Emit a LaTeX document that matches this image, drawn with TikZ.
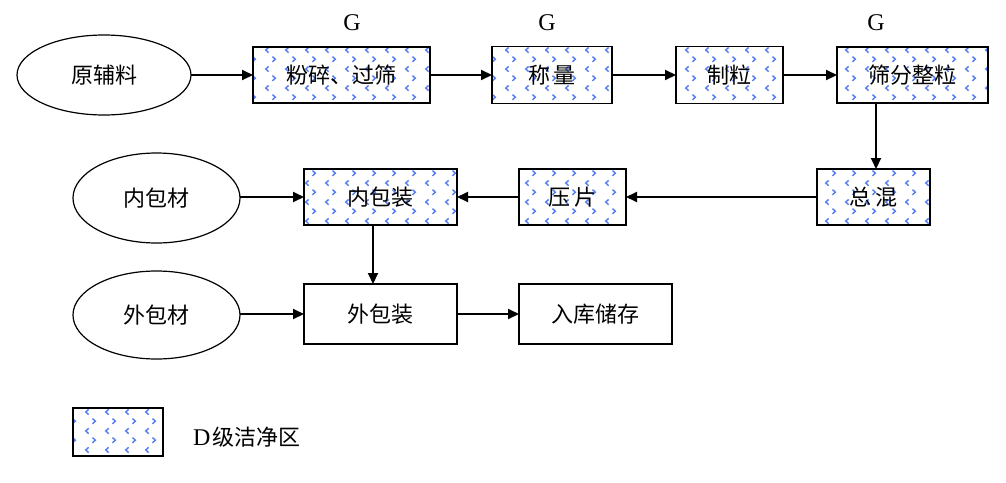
\documentclass[tikz,border=0pt]{standalone}
\usepackage{fontspec}
\setmainfont{Liberation Serif}
\newfontfamily\cjk{Noto Sans CJK SC}
\usetikzlibrary{arrows.meta,patterns,shapes.geometric}
\definecolor{patblue}{RGB}{85,125,240}
\pgfdeclarepatternformonly{divot}{\pgfqpoint{0pt}{0pt}}{\pgfqpoint{20pt}{19pt}}{\pgfqpoint{20pt}{19pt}}{%
  \pgfsetlinewidth{1.5pt}%
  \pgfpathmoveto{\pgfqpoint{9pt}{17.2pt}}\pgfpathlineto{\pgfqpoint{6pt}{14.5pt}}\pgfpathlineto{\pgfqpoint{9pt}{11.8pt}}%
  \pgfpathmoveto{\pgfqpoint{13pt}{7.7pt}}\pgfpathlineto{\pgfqpoint{16pt}{5pt}}\pgfpathlineto{\pgfqpoint{13pt}{2.3pt}}%
  \pgfusepath{stroke}}
\begin{document}
\begin{tikzpicture}[x=1pt,y=-1pt,
  every node/.style={inner sep=0pt, outer sep=0pt},
  lbl/.style={font=\cjk\fontsize{22}{22}\selectfont},
  proc/.style={draw, line width=1.5pt, rectangle, lbl},
  clean/.style={proc, pattern=divot, pattern color=patblue},
  src/.style={draw, line width=1.2pt, ellipse, lbl},
  glbl/.style={font=\fontsize{24}{24}\selectfont},
  arr/.style={line width=2pt, -{Triangle[length=11pt,width=10pt]}}]
\useasboundingbox (0,0) rectangle (1006,482);
% top row
\node[src, minimum width=174, minimum height=80] (ylf) at (104,75) {原辅料};
\node[clean, minimum width=177, minimum height=56] (fs) at (341.5,75) {粉碎、过筛};
\node[clean, minimum width=120, minimum height=57] (cl) at (552,75) {称\hspace{4pt}量};
\node[clean, minimum width=107, minimum height=57] (zl) at (729.5,75) {制粒};
\node[clean, minimum width=151, minimum height=56] (sf) at (912.5,75) {筛分整粒};
\node[glbl] (g1) at (352,23) {G};
\node[glbl] (g2) at (547,23) {G};
\node[glbl] (g3) at (876,23) {G};
% middle row
\node[clean, minimum width=113, minimum height=56] (zh) at (873.5,197) {总\hspace{4pt}混};
\node[clean, minimum width=107, minimum height=56] (yp) at (572.5,197) {压\hspace{4pt}片};
\node[clean, minimum width=153, minimum height=56] (nbz) at (380.5,197) {内包装};
\node[src, minimum width=167, minimum height=90] (nbc) at (156.5,198) {内包材};
% bottom row
\node[proc, minimum width=153, minimum height=60] (wbz) at (380.5,314) {外包装};
\node[proc, minimum width=153, minimum height=60] (rk) at (595.5,314) {入库储存};
\node[src, minimum width=167, minimum height=88] (wbc) at (156.5,315) {外包材};
% legend
\node[clean, minimum width=90, minimum height=48] (lg) at (118,432) {};
\node[anchor=west, font=\fontsize{24}{24}\selectfont] (lt) at (193,437) {D\hspace{2pt}{\cjk\fontsize{22}{22}\selectfont 级洁净区}};
% connectors
\draw[arr] (ylf.east) -- (fs.west);
\draw[arr] (fs.east) -- (fs.east -| cl.west);
\draw[arr] (cl.east) -- (cl.east -| zl.west);
\draw[arr] (zl.east) -- (zl.east -| sf.west);
\draw[arr] (sf.south -| g3) -- (zh.north -| g3);
\draw[arr] (zh.west) -- (zh.west -| yp.east);
\draw[arr] (yp.west) -- (yp.west -| nbz.east);
\draw[arr] (nbz.west -| nbc.east) -- (nbz.west);
\draw[arr] ([xshift=-7.5pt]nbz.south) -- ([xshift=-7.5pt]nbz.south |- wbz.north);
\draw[arr] (wbz.west -| wbc.east) -- (wbz.west);
\draw[arr] (wbz.east) -- (rk.west);
\end{tikzpicture}
\end{document}
